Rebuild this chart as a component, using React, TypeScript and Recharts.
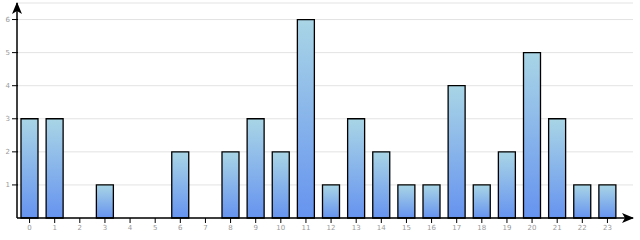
import { Bar, BarChart, CartesianGrid, XAxis, YAxis } from "recharts";

const hours = [
  "0", "1", "2", "3", "4", "5", "6", "7", "8", "9", "10", "11",
  "12", "13", "14", "15", "16", "17", "18", "19", "20", "21", "22", "23",
];
const counts = [3, 3, 0, 1, 0, 0, 2, 0, 2, 3, 2, 6, 1, 3, 2, 1, 1, 4, 1, 2, 5, 3, 1, 1];
const yTicks = [0, 1, 2, 3, 4, 5, 6];

const data = hours.map((h, i) => ({ hour: h, count: counts[i] }));

const font = "DejaVu Sans";

// ticks that cross the axis line, like the original
function XTick(props: any) {
  const { x, y, payload } = props;
  const y0 = y - 3;
  return (
    <g>
      <line x1={x} x2={x} y1={y0 - 2} y2={y0 + 3} stroke="#000" />
      <text x={x} y={y0 + 10} textAnchor="middle" fill="#999" fontSize={7} fontFamily={font}>
        {payload.value}
      </text>
    </g>
  );
}

function YTick(props: any) {
  const { x, y, payload } = props;
  if (payload.value === 0) return null;
  const x0 = x + 3;
  return (
    <g>
      <line x1={x0 - 3} x2={x0 + 3} y1={y} y2={y} stroke="#000" />
      <text x={x0 - 5} y={y + 2.5} textAnchor="end" fill="#999" fontSize={7} fontFamily={font}>
        {payload.value}
      </text>
    </g>
  );
}

export default function App() {
  return (
    <div style={{ position: "absolute", left: 0, top: 0, width: 640, height: 240, background: "#fff" }}>
      <BarChart
        width={640}
        height={240}
        data={data}
        margin={{ top: 3, right: 7, bottom: 0, left: 0 }}
      >
        <defs>
          <linearGradient id="barFill" x1="0" y1="0" x2="0" y2="1">
            <stop offset="0%" stopColor="#a9d5e6" />
            <stop offset="100%" stopColor="#6693ef" />
          </linearGradient>
          <marker
            id="arrow"
            viewBox="0 0 12 10"
            refX="11"
            refY="5"
            markerWidth="12"
            markerHeight="10"
            markerUnits="userSpaceOnUse"
            orient="auto-start-reverse"
          >
            <path d="M0,0 L12,5 L0,10 L3,5 z" fill="#000" />
          </marker>
        </defs>

        <CartesianGrid vertical={false} stroke="#e3e3e3" />

        <Bar
          dataKey="count"
          barSize={17}
          fill="url(#barFill)"
          stroke="#000"
          strokeWidth={1.3}
          isAnimationActive={false}
        />

        <XAxis
          dataKey="hour"
          height={22}
          padding={{ left: 0, right: 13 }}
          interval={0}
          tickSize={3}
          tickLine={false}
          tick={<XTick />}
          axisLine={{ stroke: "#000", strokeWidth: 1.5, markerEnd: "url(#arrow)" }}
        />
        <YAxis
          width={17}
          domain={[0, 6.5]}
          ticks={yTicks}
          tickSize={3}
          tickLine={false}
          tick={<YTick />}
          axisLine={{ stroke: "#000", strokeWidth: 1.5, markerStart: "url(#arrow)" }}
        />
      </BarChart>
    </div>
  );
}
